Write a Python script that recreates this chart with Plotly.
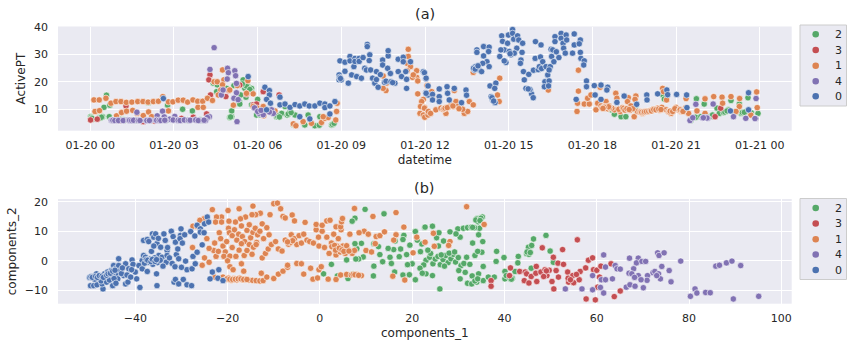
import pandas as pd
from plotly import graph_objs as go

CLASSES = ["2", "3", "1", "4", "0"]
COLORS = {"2": "#55A868", "3": "#C44E52", "1": "#DD8452", "4": "#8172B3", "0": "#4C72B0"}

# panel (a): (hours after 01-20 00:00, ActivePT)
ACTIVE_2 = [
    (0.01, 7.3), (0.08, 6.4), (0.33, 7.0), (0.44, 7.3), (0.49, 10.7), (0.58, 15.1), (0.7, 11.5), (0.68, 7.3),
    (0.88, 6.1), (1.06, 6.4), (1.2, 6.2), (1.62, 6.0), (2.08, 12.4), (2.2, 6.1), (2.77, 11.5), (2.75, 6.2),
    (3.31, 10.0), (3.45, 6.0), (3.66, 9.4), (3.95, 6.2), (4.41, 19.5), (4.55, 18.9), (5.0, 7.0), (5.07, 7.3),
    (5.07, 9.4), (4.89, 17.6), (4.53, 16.4), (5.15, 18.6), (5.34, 12.8), (5.36, 11.9), (5.48, 20.7), (5.54, 17.6),
    (5.66, 18.2), (5.78, 17.6), (5.78, 16.4), (5.58, 14.4), (5.39, 15.2), (6.0, 13.6), (5.96, 7.9), (5.78, 11.6),
    (6.08, 8.0), (6.68, 7.3), (6.74, 7.9), (6.86, 8.5), (6.98, 11.0), (7.06, 7.9), (7.16, 9.2), (7.34, 7.9),
    (7.28, 4.5), (7.69, 4.3), (7.81, 7.9), (8.05, 4.0), (8.23, 7.3), (8.21, 4.2), (8.71, 4.7), (8.65, 4.3),
    (18.67, 9.8), (18.79, 8.2), (19.03, 7.3), (19.2, 7.3), (19.56, 9.8), (20.53, 15.2), (20.58, 13.7), (21.53, 5.9),
    (21.73, 13.8), (22.01, 11.9), (21.71, 7.1), (21.89, 7.3), (22.23, 7.3), (22.31, 7.9), (22.47, 10.4), (22.55, 8.5),
    (22.79, 9.2), (22.87, 9.8), (22.97, 13.2), (23.27, 11.9), (23.2, 9.2), (23.34, 8.5), (23.52, 9.2), (23.58, 14.2),
    (23.94, 8.5), (22.7, 8.8), (23.1, 8.6), (23.7, 8.7), (0.03, 7.0), (0.06, 6.7), (0.36, 6.8), (0.4, 7.1),
    (1.09, 6.2), (1.23, 6.0), (1.65, 5.9), (2.23, 6.0), (2.72, 6.0), (3.48, 6.1), (3.98, 6.0), (5.03, 7.2),
    (5.5, 18.9), (5.6, 18.4), (5.72, 17.2), (5.45, 19.2), (6.71, 7.6), (6.78, 7.2), (7.1, 8.3), (7.2, 8.8),
    (8.68, 4.5), (8.74, 4.9), (22.75, 9.0), (22.83, 9.4), (23.38, 8.8), (23.45, 8.9),
]
ACTIVE_3 = [
    (0.01, 6.1), (0.25, 6.4), (1.28, 11.2), (1.06, 5.8), (1.9, 5.5), (2.3, 5.7), (3.27, 6.7), (3.69, 7.1),
    (4.17, 8.3), (4.29, 22.5), (4.25, 20.7), (4.31, 15.2), (4.86, 14.6), (4.97, 16.8), (5.36, 18.8), (5.6, 15.5),
    (6.2, 16.4), (5.84, 11.6), (5.96, 11.9), (6.77, 15.2), (22.4, 7.3), (22.6, 10.4),
]
ACTIVE_1 = [
    (0.13, 13.4), (0.32, 13.4), (0.56, 14.0), (0.74, 12.2), (0.92, 12.8), (1.1, 12.8), (1.29, 12.5), (1.49, 12.6),
    (1.7, 12.8), (1.89, 12.8), (2.07, 12.6), (2.26, 12.8), (2.44, 12.9), (2.6, 14.6), (2.8, 12.7), (2.96, 12.7),
    (3.15, 13.3), (3.33, 13.3), (3.49, 12.6), (3.68, 13.4), (3.85, 12.9), (4.03, 12.9), (0.17, 9.2), (0.33, 9.5),
    (0.94, 7.6), (1.12, 8.8), (1.3, 9.3), (1.52, 9.6), (1.68, 8.5), (1.9, 7.7), (2.09, 9.0), (2.2, 7.3),
    (2.8, 9.4), (3.86, 10.7), (4.05, 10.7), (4.2, 14.0), (4.38, 13.2), (4.44, 20.0), (4.55, 20.0), (4.74, 24.3),
    (4.79, 20.7), (4.74, 18.9), (5.13, 11.5), (5.27, 18.6), (5.65, 20.4), (5.84, 15.6), (5.6, 15.8), (4.68, 17.0),
    (4.59, 15.2), (5.0, 17.0), (5.84, 11.0), (5.99, 10.4), (6.2, 11.0), (6.22, 7.6), (6.36, 9.2), (6.62, 9.4),
    (7.28, 4.7), (7.37, 4.0), (7.63, 5.5), (7.93, 4.9), (8.29, 5.2), (8.41, 6.7), (8.53, 7.0), (8.8, 6.1),
    (8.83, 9.2), (8.85, 12.2), (8.35, 7.3), (11.4, 31.8), (11.4, 29.2), (11.36, 26.7), (11.48, 25.5), (11.36, 24.0),
    (11.7, 24.0), (11.7, 21.6), (11.55, 21.6), (11.74, 20.3), (11.58, 22.5), (11.74, 15.6), (10.5, 22.1), (10.62, 19.5),
    (10.6, 16.8), (10.5, 17.6), (11.94, 13.6), (11.88, 12.8), (11.84, 11.0), (11.99, 10.7), (11.82, 8.5), (11.94, 7.9),
    (11.99, 7.1), (12.11, 7.9), (12.1, 18.8), (12.07, 18.6), (12.24, 16.4), (12.27, 14.6), (11.98, 10.4), (12.12, 9.2),
    (12.2, 8.5), (12.39, 9.8), (12.57, 10.4), (12.75, 8.5), (12.75, 10.7), (12.93, 11.6), (13.03, 11.0), (13.11, 12.8),
    (13.29, 10.7), (13.41, 8.5), (13.53, 9.2), (13.59, 12.8), (13.73, 11.6), (13.35, 10.0), (13.17, 11.0), (13.05, 16.8),
    (13.73, 23.4), (14.68, 21.3), (14.6, 15.2), (14.66, 12.8), (16.42, 17.0), (17.5, 24.2), (17.5, 16.6), (17.47, 12.2),
    (17.45, 9.2), (17.71, 11.9), (17.89, 11.9), (17.83, 14.0), (17.95, 15.2), (18.28, 18.0), (18.19, 12.2), (18.13, 9.8),
    (18.31, 11.2), (18.49, 12.8), (18.6, 11.2), (18.84, 15.8), (18.88, 14.0), (18.79, 9.8), (19.0, 9.2), (19.14, 9.8),
    (19.29, 14.2), (19.26, 12.8), (19.38, 11.2), (19.56, 14.8), (19.53, 13.6), (19.5, 7.3), (19.62, 9.2), (19.8, 8.5),
    (19.98, 9.2), (20.16, 9.8), (20.34, 10.4), (20.52, 17.6), (20.55, 16.4), (20.66, 13.4), (20.49, 10.7), (20.64, 9.8),
    (20.82, 8.5), (21.0, 10.7), (21.18, 9.2), (21.36, 13.9), (21.45, 8.5), (21.35, 10.6), (21.75, 9.4), (22.04, 13.8),
    (22.04, 8.5), (22.35, 14.6), (22.65, 14.4), (22.67, 12.2), (22.97, 14.6), (23.28, 13.9), (23.27, 11.0), (23.89, 16.3),
    (23.91, 10.6), (23.68, 7.9), (23.15, 9.2), (18.35, 10.5), (18.45, 11.0), (18.55, 10.2), (18.7, 10.4), (18.95, 10.0),
    (19.08, 10.6), (19.2, 10.0), (19.35, 9.6), (19.45, 10.2), (19.7, 9.0), (19.9, 9.0), (20.05, 9.4), (20.25, 10.0),
    (20.42, 9.6), (20.72, 9.2), (20.92, 9.6), (21.08, 10.0), (21.28, 9.5), (12.65, 10.0), (12.85, 10.8), (13.22, 10.2),
    (19.74, 9.1), (19.77, 8.9), (19.84, 8.8), (19.87, 9.1), (19.94, 9.2), (20.02, 9.3), (20.09, 9.6), (20.12, 9.4),
    (20.2, 9.9), (20.28, 9.8), (20.38, 10.1), (20.46, 9.9), (20.76, 9.0), (20.79, 9.3), (20.88, 9.2), (20.96, 10.2),
    (21.12, 9.6), (21.15, 9.8), (21.22, 9.4), (21.25, 9.2), (19.12, 10.3), (19.17, 9.7), (19.24, 10.2), (19.32, 9.9),
    (18.62, 10.6), (18.58, 10.9), (18.42, 10.7), (18.38, 10.3), (12.68, 10.2), (12.72, 10.4), (12.8, 10.6), (13.0, 11.2),
]
ACTIVE_4 = [
    (4.44, 32.4), (4.29, 24.5), (4.92, 24.9), (4.95, 23.3), (4.91, 21.0), (5.18, 24.0), (5.21, 22.2), (5.24, 19.4),
    (5.26, 5.5), (5.24, 16.0), (4.27, 7.3), (4.2, 7.0), (4.7, 15.2), (4.76, 17.0), (5.15, 14.0), (5.3, 13.5),
    (1.67, 8.9), (2.59, 9.3), (2.4, 7.6), (2.65, 7.2), (3.03, 7.4), (2.85, 6.4), (0.75, 6.0), (0.85, 5.9),
    (0.98, 6.0), (1.15, 5.9), (1.35, 6.1), (1.45, 5.9), (1.58, 6.0), (1.75, 5.9), (2.0, 5.9), (2.15, 6.0),
    (2.35, 6.0), (2.5, 5.9), (2.7, 6.0), (3.0, 6.1), (3.12, 6.0), (3.25, 5.9), (3.4, 6.1), (3.55, 6.0),
    (3.75, 6.1), (3.9, 5.9), (4.05, 6.0), (4.13, 5.9), (5.89, 10.5), (6.06, 8.5), (6.2, 8.0), (6.5, 9.8),
    (6.56, 8.5), (6.0, 9.2), (6.12, 9.6), (6.42, 9.0), (21.5, 5.9), (21.71, 11.8), (22.05, 7.0), (22.14, 6.7),
    (22.33, 11.9), (23.06, 7.3), (23.5, 6.7), (23.87, 13.9), (23.86, 6.6), (21.6, 6.9), (21.95, 6.8),
    (0.78, 6.0), (0.81, 6.0), (0.88, 5.9), (1.01, 5.9), (1.18, 5.9), (1.38, 6.0), (1.41, 6.0), (1.48, 5.9),
    (1.55, 6.0), (1.72, 5.9), (1.78, 5.9), (2.03, 5.9), (2.12, 5.9), (2.38, 6.0), (2.47, 6.0), (2.53, 5.9),
    (2.67, 6.0), (2.97, 6.1), (3.15, 6.0), (3.22, 5.9), (3.37, 6.1), (3.52, 6.0), (3.58, 6.0), (3.78, 6.1),
    (3.87, 5.9), (4.08, 6.0), (22.08, 6.9), (22.11, 6.8), (21.98, 6.9), (23.83, 6.6),
]
ACTIVE_0 = [
    (2.62, 13.9), (5.66, 21.9), (6.26, 18.0), (6.42, 16.8), (6.42, 15.2), (6.32, 13.6), (6.46, 12.2), (6.32, 9.8),
    (6.8, 14.4), (6.8, 11.6), (6.98, 11.9), (7.16, 10.7), (7.34, 11.7), (7.51, 11.2), (7.69, 11.9), (7.85, 11.2),
    (8.05, 11.2), (8.23, 12.2), (8.41, 11.9), (8.41, 10.6), (8.59, 11.2), (8.77, 12.8), (8.59, 8.3), (7.51, 7.3),
    (7.87, 6.5), (8.95, 27.6), (8.92, 22.5), (8.92, 20.7), (9.0, 20.7), (9.13, 23.8), (9.13, 27.1), (9.25, 19.5),
    (9.31, 29.2), (9.31, 27.6), (9.37, 22.5), (9.45, 25.5), (9.49, 28.5), (9.49, 27.4), (9.55, 21.9), (9.64, 28.5),
    (9.64, 27.4), (9.72, 21.3), (9.78, 28.8), (9.84, 24.9), (9.93, 33.6), (9.93, 32.8), (10.02, 29.8), (10.0, 27.7),
    (9.9, 24.3), (10.05, 24.3), (10.12, 21.3), (10.26, 23.7), (10.2, 19.5), (10.32, 18.0), (10.26, 20.8), (10.4, 22.6),
    (10.48, 27.9), (10.48, 26.1), (10.68, 29.4), (10.68, 31.3), (10.66, 24.9), (10.76, 23.0), (10.92, 19.5), (11.04, 28.2),
    (11.22, 28.9), (11.22, 27.3), (11.04, 23.7), (11.16, 21.9), (11.31, 23.7), (11.48, 27.3), (11.34, 20.9), (11.34, 17.6),
    (11.94, 23.7), (12.03, 21.2), (12.11, 18.5), (12.03, 16.0), (12.11, 15.2), (11.98, 23.3), (12.04, 21.3), (12.04, 15.8),
    (12.27, 15.4), (12.27, 13.4), (12.51, 17.4), (12.51, 14.6), (12.51, 12.8), (12.79, 18.2), (12.81, 15.8), (13.05, 17.6),
    (12.87, 13.4), (13.31, 12.4), (13.47, 17.0), (13.49, 15.1), (13.86, 31.6), (13.86, 30.7), (14.1, 32.8), (14.1, 29.4),
    (14.3, 32.6), (14.28, 31.0), (14.22, 27.3), (14.07, 26.7), (13.8, 25.5), (13.77, 24.3), (13.95, 24.3), (14.03, 23.7),
    (14.3, 25.5), (14.33, 18.5), (14.54, 19.5), (14.5, 17.6), (14.37, 14.6), (14.43, 13.4), (14.51, 12.4), (14.68, 29.2),
    (14.75, 36.7), (14.78, 34.7), (14.84, 31.6), (14.72, 31.6), (14.9, 27.0), (14.84, 27.6), (14.96, 34.0), (14.99, 37.0),
    (15.14, 39.0), (15.14, 37.6), (15.18, 35.5), (15.32, 36.7), (15.36, 35.2), (15.29, 32.2), (15.08, 29.8), (15.02, 31.0),
    (15.2, 30.4), (15.5, 34.0), (15.48, 30.7), (15.44, 27.9), (15.42, 26.7), (15.53, 23.7), (15.56, 20.7), (15.72, 22.7),
    (15.62, 17.6), (15.78, 16.8), (15.82, 15.6), (15.88, 14.2), (15.89, 24.2), (15.96, 34.6), (15.95, 28.5), (16.16, 33.4),
    (16.14, 29.0), (16.06, 24.4), (16.1, 25.5), (16.22, 27.3), (16.18, 24.8), (16.34, 25.5), (16.4, 22.5), (16.49, 25.5),
    (16.45, 24.3), (16.3, 20.0), (16.28, 18.2), (16.45, 20.3), (16.43, 18.5), (16.52, 31.8), (16.58, 31.6), (16.66, 36.4),
    (16.66, 34.6), (16.54, 29.2), (16.62, 27.3), (16.71, 30.9), (16.8, 28.8), (16.88, 37.6), (16.88, 35.8), (16.95, 34.0),
    (16.97, 32.2), (17.06, 37.0), (17.08, 35.2), (17.03, 30.4), (17.35, 37.4), (17.35, 33.4), (17.29, 30.4), (17.57, 35.2),
    (17.53, 33.8), (17.57, 30.7), (17.59, 28.5), (17.71, 27.6), (17.69, 26.1), (17.42, 13.6), (17.79, 20.3), (17.79, 18.2),
    (18.07, 18.6), (18.31, 18.8), (18.55, 18.0), (18.52, 17.0), (18.1, 15.2), (18.31, 13.6), (18.88, 12.5), (19.14, 14.8),
    (19.59, 11.8), (19.95, 15.2), (19.96, 13.4), (20.34, 15.6), (20.67, 17.0), (20.7, 15.3), (21.02, 15.4), (21.38, 15.2),
    (21.39, 10.6), (23.6, 16.0), (23.6, 9.8), (22.95, 9.4), (8.94, 21.6), (8.97, 21.2), (10.55, 19.8), (10.6, 20.2),
    (10.78, 20.0), (10.84, 19.7), (13.74, 24.9), (13.8, 24.6), (13.9, 25.8), (14.4, 14.2), (14.46, 13.0), (15.05, 30.2),
    (15.76, 17.2), (15.7, 17.4),
]

# panel (b): (components_1, components_2)
COMPONENTS_2 = [
    (7.6, 14.4), (7.0, 13.4), (9.8, 17.4), (13.9, 15.9), (18.2, 8.6), (20.7, 9.9), (22.7, 11.3), (22.8, 11.4),
    (24.4, 11.7), (34.5, 14.2), (34.0, 14.2), (35.2, 14.8), (34.3, 13.2), (34.6, 11.0), (34.4, 8.8), (35.3, 6.5),
    (33.1, 6.0), (35.1, 2.9), (33.6, 1.8), (34.2, 3.2), (31.8, 1.2), (30.4, 8.0), (29.9, 10.8), (31.1, 11.0),
    (32.0, 11.2), (32.8, 11.4), (28.2, 9.8), (29.5, 9.1), (25.3, 7.8), (25.8, 9.5), (26.8, 6.7), (25.7, 5.0),
    (26.0, -9.5), (23.0, -4.4), (24.4, -5.0), (30.4, -6.1), (32.0, -7.6), (32.9, -7.8), (34.0, -7.2), (34.4, -4.4),
    (35.4, -1.9), (35.4, -6.7), (36.5, -5.5), (37.8, -5.5), (38.2, -0.2), (38.3, 3.2), (39.9, 1.1), (40.1, -3.6),
    (40.1, -6.1), (41.7, -5.9), (42.3, -3.6), (43.0, 1.5), (42.9, -0.7), (44.8, 2.4), (45.3, 2.2), (46.3, 7.4),
    (45.2, 4.6), (45.9, 5.2), (49.0, 8.6), (49.9, 3.3), (50.6, -0.5), (45.8, -2.5), (23.0, 0.2), (23.8, 1.2),
    (24.5, -1.0), (25.0, 0.6), (25.6, 1.5), (26.1, -1.3), (26.7, 0.4), (27.3, 1.8), (27.8, -0.6), (28.4, 0.7),
    (28.9, 2.2), (29.4, -0.4), (30.0, 1.1), (30.6, -1.6), (30.1, -3.3), (31.2, -0.9), (31.5, -3.9), (32.5, -1.2),
    (33.0, -5.1), (22.5, -1.4), (26.3, 2.0), (27.0, -1.8), (28.0, 2.6), (29.2, 3.0), (24.0, 2.5), (23.4, 3.6),
    (21.8, 3.1), (22.1, 5.7), (21.1, 7.0), (19.5, 5.3), (18.0, 7.2), (17.5, 4.0), (16.3, 6.7), (16.0, 3.8),
    (15.2, 1.2), (15.5, -0.9), (13.6, -0.3), (13.0, 2.1), (12.7, 4.8), (11.7, 5.8), (11.7, -1.8), (11.6, -5.1),
    (9.4, 1.3), (8.4, 0.6), (9.0, 5.9), (8.0, 4.1), (7.6, 5.8), (7.8, 0.6), (5.8, 0.3), (2.5, -1.2),
    (0.8, -4.4), (3.8, -5.1), (6.1, -6.0), (7.2, -4.4), (16.2, -3.8), (18.0, -4.8), (19.4, -4.7), (20.0, -1.0),
    (19.0, -1.3), (20.7, -6.4), (21.7, -2.5), (22.2, -4.2), (18.8, 2.1), (17.2, 1.4), (14.8, 4.2),
    (33.8, 13.8), (34.9, 14.4), (34.7, 13.6), (33.5, 11.2), (33.1, 11.3), (33.6, -6.8), (34.2, -6.1), (40.4, -5.0),
    (41.2, -6.0), (41.5, -6.2), (44.9, 3.0), (45.6, 2.8),
]
COMPONENTS_3 = [
    (37.1, -6.7), (37.1, -8.6), (41.3, -2.4), (41.1, -5.0), (43.3, -3.6), (44.5, -3.8), (44.8, -4.4), (44.3, -6.7),
    (45.3, -7.5), (45.8, -5.3), (46.9, -1.9), (47.0, -7.0), (46.8, -4.2), (48.2, 4.4), (47.9, -3.8), (48.8, -3.0),
    (49.2, -5.0), (49.7, -3.2), (50.3, -7.0), (50.7, -9.5), (50.6, 1.2), (51.2, -3.3), (51.7, -5.5), (51.6, -0.8),
    (52.6, 3.8), (52.8, -1.2), (53.7, -3.8), (53.9, -7.2), (55.0, -7.4), (54.8, -5.0), (55.8, 7.1), (56.2, -6.4),
    (56.4, -3.6), (57.6, -2.4), (57.7, -12.9), (58.2, 0.2), (59.1, 1.0), (59.3, -3.0), (59.7, -13.2), (60.0, -3.2),
    (60.2, -8.9), (60.9, -1.8), (63.1, -1.0), (63.8, -12.1), (65.1, -10.2), (48.5, -5.3), (49.1, -3.4), (53.8, -5.9),
    (55.6, -4.6), (54.3, -6.4), (60.6, -5.5),
]
COMPONENTS_1 = [
    (-23.3, 17.3), (-19.9, 17.0), (-17.5, 17.6), (-14.5, 18.5), (-10.0, 19.3), (-9.2, 19.5), (-8.5, 17.6), (-12.9, 16.1),
    (-13.9, 15.6), (-10.8, 15.6), (-14.7, 15.6), (-16.1, 14.8), (-17.2, 14.2), (-18.3, 13.1), (-19.7, 13.4), (-21.3, 14.8),
    (-22.4, 14.8), (-22.6, 13.1), (-21.3, 13.1), (-25.1, 14.2), (-26.0, 13.7), (-27.5, 11.7), (-26.6, 11.6), (-19.8, 11.0),
    (-19.6, 9.5), (-19.0, 8.5), (-18.5, 10.5), (-18.0, 7.0), (-17.6, 9.0), (-17.0, 11.8), (-16.8, 8.2), (-16.3, 6.5),
    (-15.8, 10.3), (-15.3, 12.2), (-15.0, 7.8), (-14.5, 9.6), (-14.0, 11.0), (-13.7, 6.2), (-13.5, 8.8), (-13.0, 10.0),
    (-12.5, 12.5), (-12.2, 7.5), (-11.5, 11.2), (-11.0, 8.8), (-21.8, 9.5), (-21.5, 7.5), (-21.0, 5.0), (-20.5, 3.0),
    (-20.2, 6.5), (-22.8, 6.0), (-23.0, 3.5), (-24.0, 4.2), (-24.5, 7.5), (-25.0, 1.0), (-27.6, 4.5), (-22.5, 1.5),
    (-22.0, 3.2), (-20.8, 1.5), (-19.5, 1.6), (-19.0, 4.5), (-18.2, 1.5), (-17.5, 3.6), (-17.0, 5.8), (-16.4, 1.8),
    (-15.8, 3.5), (-15.3, 5.5), (-14.7, 2.2), (-14.4, 4.6), (-13.8, 5.5), (-12.5, 1.0), (-11.8, 2.5), (-11.2, 4.0),
    (-10.5, 5.5), (-9.6, 6.5), (-9.0, 4.0), (-8.2, 3.3), (-7.5, 7.0), (-6.8, 5.6), (-6.2, 8.8), (-5.5, 7.5),
    (-5.0, 5.5), (-4.5, 8.5), (-4.0, 6.0), (-3.5, 9.0), (-2.8, 7.0), (-2.2, 6.5), (-1.4, 6.0), (-0.8, 10.5),
    (-0.3, 8.0), (-0.2, 5.0), (0.5, 10.0), (1.0, 4.5), (1.5, 8.0), (2.0, 2.5), (2.5, 6.0), (2.9, 4.5),
    (3.0, 9.0), (3.5, 2.0), (3.7, 5.0), (4.0, 7.5), (4.4, 3.0), (4.6, 10.5), (5.0, 5.0), (5.5, 2.5),
    (6.0, 4.0), (6.5, 9.0), (7.0, 2.5), (7.5, 3.5), (-21.0, -5.5), (-20.4, -6.3), (-19.8, -5.8), (-19.2, -6.6),
    (-18.6, -6.0), (-18.0, -6.5), (-17.4, -5.8), (-16.8, -6.4), (-16.2, -6.1), (-15.4, -6.5), (-14.6, -6.6), (-13.8, -6.7),
    (-13.0, -6.8), (-12.3, -6.7), (-11.5, -5.5), (-10.0, -6.0), (-12.7, -4.2), (-9.0, -4.5), (-8.0, -3.5), (-7.0, -2.2),
    (-7.0, -1.5), (-5.0, -0.9), (-4.0, -1.0), (-3.5, -4.5), (-2.0, -2.5), (-1.5, -6.2), (-0.5, -5.8), (-0.2, -3.0),
    (0.3, -2.0), (1.8, -6.2), (3.5, -6.3), (4.5, -4.8), (5.8, -4.6), (6.8, -4.8), (8.0, -4.6), (9.0, -5.0),
    (-20.0, 0.0), (-19.5, -2.0), (-18.8, -3.0), (-17.0, -1.0), (-16.5, -3.5), (-25.5, -1.5), (-24.0, -0.5), (-22.8, -5.5),
    (-8.0, 15.0), (-7.5, 14.5), (-6.0, 15.5), (-5.5, 13.5), (-3.2, 13.0), (-0.8, 12.3), (0.5, 12.0), (1.5, 13.5),
    (2.2, 13.7), (3.5, 11.5), (4.5, 11.5), (4.7, 13.2), (4.9, 14.3), (7.5, 17.7), (16.5, 16.3), (11.5, 15.0),
    (18.2, 11.4), (9.6, 10.0), (10.5, 9.0), (8.5, 9.5), (12.2, 8.2), (13.0, 8.5), (14.0, 9.8), (16.5, 8.8),
    (16.0, 7.0), (12.0, 5.8), (10.0, 3.5), (11.2, 3.0), (18.4, -6.5), (15.8, -5.2), (20.2, 2.7), (21.0, 8.0),
    (31.8, 18.3), (35.6, 12.3), (24.6, 9.3), (28.2, 6.5), (27.9, 5.2), (24.8, 4.9), (22.8, 6.3),
    (-20.1, -6.1), (-19.5, -6.2), (-18.9, -6.3), (-18.3, -6.2), (-17.7, -6.1), (-17.1, -6.1), (-16.5, -6.3), (-15.8, -6.3),
    (2.6, 4.8), (3.2, 5.2), (3.4, 3.6), (4.2, 4.3), (4.8, 3.7), (5.2, 3.2), (5.8, 5.1), (6.3, 3.3),
    (7.2, -4.6), (7.6, -4.7), (8.4, -4.9), (-6.4, 6.2), (-5.9, 6.8), (-7.0, 6.4),
]
COMPONENTS_4 = [
    (61.5, 2.0), (61.9, -2.1), (59.1, -5.0), (61.0, -6.4), (61.9, -6.4), (53.2, -9.5), (56.8, -9.5), (59.1, -9.8),
    (61.5, -10.9), (60.8, -9.0), (63.4, -6.1), (64.0, -1.6), (64.4, -2.7), (65.1, -2.8), (66.4, -8.9), (67.2, -8.1),
    (67.1, 0.9), (69.0, 0.9), (68.6, -0.7), (68.0, -2.7), (67.0, -4.2), (67.6, -4.4), (68.3, -8.6), (69.0, -5.0),
    (70.1, -9.1), (69.8, -0.2), (70.6, -0.2), (71.0, -5.0), (70.9, -6.6), (72.2, -4.0), (72.6, -3.6), (73.2, 2.7),
    (73.5, 1.8), (74.6, 2.7), (74.1, -1.9), (73.4, -4.4), (73.8, -6.1), (75.7, -3.3), (76.1, -7.1), (78.2, -0.1),
    (80.3, -12.0), (81.3, -9.5), (81.7, -10.9), (83.6, -10.7), (84.6, -10.8), (85.8, -1.8), (86.6, -1.5), (88.1, -0.7),
    (89.3, -0.1), (89.6, -12.9), (91.2, -1.6), (95.1, -12.0), (69.6, -6.4), (68.2, -5.6), (73.0, -5.0),
]
COMPONENTS_0 = [
    (-49.9, -5.6), (-49.7, -8.4), (-49.0, -8.4), (-48.3, -8.1), (-49.0, -5.2), (-48.4, -4.4), (-47.9, -6.1), (-47.6, -5.0),
    (-47.0, -9.5), (-47.2, -7.8), (-46.7, -4.4), (-46.5, -6.1), (-46.0, -3.8), (-45.7, -5.0), (-44.9, -8.4), (-45.2, -3.3),
    (-44.7, -1.6), (-44.1, -4.4), (-44.3, -2.7), (-43.6, 0.7), (-43.6, -1.6), (-43.2, -3.3), (-43.8, -6.1), (-42.5, -5.0),
    (-42.1, -7.8), (-41.6, -7.2), (-42.1, -1.0), (-41.4, -2.7), (-40.7, 0.3), (-40.5, -1.2), (-40.0, -3.8), (-39.7, -6.1),
    (-39.0, -9.0), (-38.5, 0.1), (-38.2, 1.8), (-39.2, -1.6), (-38.5, -2.7), (-37.4, -3.6), (-37.1, -0.5), (-38.2, 6.9),
    (-37.4, 7.2), (-37.1, 6.5), (-36.5, 3.2), (-36.3, 9.1), (-36.0, 8.0), (-35.6, 9.1), (-35.3, -8.4), (-35.4, -4.4),
    (-35.3, 5.8), (-34.5, 4.6), (-34.9, 1.8), (-33.8, 9.1), (-33.5, 6.9), (-34.2, 1.2), (-33.1, 3.5), (-33.1, 1.8),
    (-33.3, -0.5), (-32.2, 10.0), (-31.8, 8.2), (-31.3, 6.3), (-31.1, 2.1), (-31.6, -7.2), (-31.3, -6.3), (-30.6, -7.8),
    (-30.1, 10.8), (-30.2, 8.6), (-30.3, 7.5), (-29.8, 6.0), (-29.3, 8.8), (-29.1, -0.1), (-29.6, -6.3), (-28.8, -3.0),
    (-28.8, -8.1), (-27.8, -8.4), (-28.0, 9.9), (-27.7, -2.7), (-27.5, 1.5), (-27.0, -1.0), (-26.6, 2.9), (-27.1, 8.4),
    (-26.6, 12.0), (-25.9, 10.8), (-25.5, 5.4), (-25.9, 9.7), (-25.1, 9.5), (-25.0, 12.5), (-24.4, 14.8), (-24.1, 13.1),
    (-23.8, -6.1), (-23.3, -3.8), (-21.9, -3.0), (-22.1, -5.9), (-21.0, -6.7), (-48.8, -6.2), (-48.0, -5.2), (-47.4, -6.8),
    (-46.8, -5.4), (-46.2, -7.2), (-45.6, -6.5), (-45.0, -4.6), (-44.6, -6.0), (-44.2, -7.6), (-43.0, -4.3), (-42.8, -2.4),
    (-41.8, -4.8), (-41.0, -5.5), (-40.8, -3.0), (-38.0, -0.8), (-37.8, 1.2), (-36.8, 0.6), (-36.2, -1.2), (-35.8, 1.0),
    (-35.2, -0.6), (-34.6, 0.2), (-34.0, -1.8), (-32.6, 1.0), (-32.0, -0.9), (-31.4, -2.0), (-30.6, 0.7), (-30.0, -2.2),
    (-36.0, 5.0), (-35.0, 7.6), (-33.0, 4.5), (-30.8, 4.0), (-49.6, -5.4), (-49.3, -5.6), (-48.6, -5.3), (-48.2, -5.6),
    (-47.8, -5.0), (-47.2, -5.2), (-46.9, -5.6), (-46.2, -4.9), (-45.9, -4.4), (-45.4, -4.2), (-44.9, -3.5), (-44.4, -3.2),
    (-37.6, 0.4), (-37.3, 0.2), (-36.6, -0.3), (-36.3, 0.5), (-35.7, -0.2), (-35.4, 0.4),
]
POINTS_A = {"2": ACTIVE_2, "3": ACTIVE_3, "1": ACTIVE_1, "4": ACTIVE_4, "0": ACTIVE_0}
POINTS_B = {"2": COMPONENTS_2, "3": COMPONENTS_3, "1": COMPONENTS_1, "4": COMPONENTS_4, "0": COMPONENTS_0}

DATE_TICK_HOURS = [0, 3, 6, 9, 12, 15, 18, 21, 24]
DATE_TICK_LABELS = ["01-20 00", "01-20 03", "01-20 06", "01-20 09", "01-20 12",
                    "01-20 15", "01-20 18", "01-20 21", "01-21 00"]

START = pd.Timestamp("2020-01-20")
TEXT = "#262626"
PANEL = "#EAEAF2"
W, H = 853, 348


def to_time(hours):
    return START + pd.to_timedelta(hours, unit="h")


def px(x):
    return x / W


def py(y):
    return 1 - y / H


def axis_style(standoff, **kwargs):
    return dict(showgrid=True, gridcolor="white", gridwidth=1, zeroline=False, showline=False,
                ticks="", tickfont=dict(size=11, color=TEXT), title_font=dict(size=12, color=TEXT),
                automargin=False, ticklabelstandoff=standoff, **kwargs)


def add_legend(shapes, annotations, top, bottom, rows):
    shapes.append(dict(type="rect", xref="paper", yref="paper", x0=px(800), x1=px(846.5), y0=py(bottom), y1=py(top),
                       fillcolor=PANEL, line=dict(color="#CCCCCC", width=1)))
    for label, row_y in zip(CLASSES, rows):
        shapes.append(dict(type="circle", xref="paper", yref="paper", x0=px(812.4), x1=px(819),
                           y0=py(row_y + 3.3), y1=py(row_y - 3.3), fillcolor=COLORS[label], line=dict(width=0)))
        annotations.append(dict(text=label, xref="paper", yref="paper", x=px(838), y=py(row_y), showarrow=False,
                                xanchor="center", yanchor="middle", font=dict(size=11, color=TEXT)))


traces = []
for label in CLASSES:
    hours, active = zip(*POINTS_A[label])
    comp_1, comp_2 = zip(*POINTS_B[label])
    marker = dict(color=COLORS[label], size=6.4, line=dict(color="white", width=0.6))
    traces.append(go.Scatter(x=to_time(list(hours)), y=active, mode="markers", name=label, marker=marker,
                             xaxis="x", yaxis="y", showlegend=False))
    traces.append(go.Scatter(x=comp_1, y=comp_2, mode="markers", name=label, marker=marker,
                             xaxis="x2", yaxis="y2", showlegend=False))

shapes = []
annotations = [
    dict(text="(a)", xref="paper", yref="paper", x=px(424.5), y=py(14), showarrow=False,
         xanchor="center", yanchor="middle", font=dict(size=14.5, color=TEXT)),
    dict(text="(b)", xref="paper", yref="paper", x=px(424.5), y=py(188), showarrow=False,
         xanchor="center", yanchor="middle", font=dict(size=14.5, color=TEXT)),
]
add_legend(shapes, annotations, 25, 106, [34.3, 50, 65.7, 81.3, 96.3])
add_legend(shapes, annotations, 198.5, 279.5, [208, 223.5, 239.3, 254.5, 270])

fig = go.Figure(
    data=traces,
    layout=go.Layout(
        width=W,
        height=H,
        margin=dict(l=0, r=0, t=0, b=0),
        paper_bgcolor="white",
        plot_bgcolor=PANEL,
        font=dict(family="DejaVu Sans", color=TEXT),
        xaxis=axis_style(6, domain=[px(58), px(791.7)], anchor="y", range=[to_time(-1.158), to_time(25.147)],
                         tickvals=to_time(DATE_TICK_HOURS), ticktext=DATE_TICK_LABELS,
                         title=dict(text="datetime", standoff=4)),
        yaxis=axis_style(9, domain=[py(130.7), py(26.5)], anchor="x", range=[2.2, 40.1], tickvals=[10, 20, 30, 40],
                         title=dict(text="ActivePT", standoff=5)),
        xaxis2=axis_style(6, domain=[px(58), px(791.7)], anchor="y2", range=[-56.75, 102.25],
                          tickvals=[-40, -20, 0, 20, 40, 60, 80, 100],
                          title=dict(text="components_1", standoff=4)),
        yaxis2=axis_style(9, domain=[py(303.7), py(199)], anchor="x2", range=[-14.5, 20.9], tickvals=[-10, 0, 10, 20],
                          title=dict(text="components_2", standoff=5)),
        shapes=shapes,
        annotations=annotations,
    ),
)
fig.write_html("out.html", post_script="document.body.style.margin='0';", config=dict(displayModeBar=False))
